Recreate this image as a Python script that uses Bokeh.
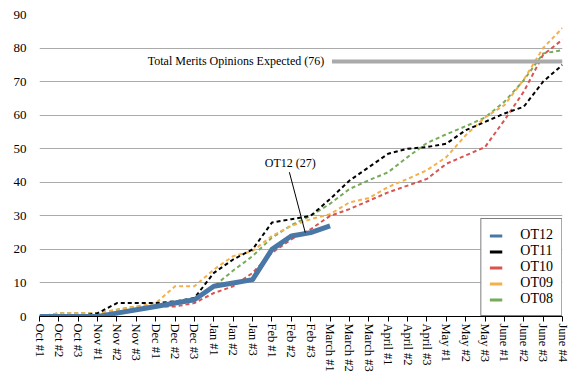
import math
from bokeh.plotting import figure
from bokeh.models import Range1d, FixedTicker, Legend, LegendItem, Label
from bokeh.embed import file_html
from bokeh.resources import INLINE

categories = ["Oct #1", "Oct #2", "Oct #3", "Nov #1", "Nov #2", "Nov #3",
              "Dec #1", "Dec #2", "Dec #3", "Jan #1", "Jan #2", "Jan #3",
              "Feb #1", "Feb #2", "Feb #3", "March #1", "March #2", "March #3",
              "April #1", "April #2", "April #3", "May #1", "May #2", "May #3",
              "June #1", "June #2", "June #3", "June #4"]

ot12 = [0, 0, 0, 0, 1, 2, 3, 4, 5, 9, 10, 11, 20, 24, 25, 27]
ot11 = [0, 0, 0, 1, 4, 4, 4, 4.5, 5.5, 13, 17, 20, 28, 29, 30, 35, 40.5, 44.5,
        48.5, 50, 50.5, 51.5, 55.5, 58, 60.5, 62.5, 70, 75]
ot10 = [0, 0, 0, 0, 1, 2, 3, 3, 4, 7, 9, 13, 19, 23, 26, 30, 32, 34.5,
        37, 39, 41, 45.5, 48, 50.5, 58.5, 67, 78, 82.5]
ot09 = [0, 1, 1, 1, 2, 3, 4, 9, 9, 14, 18, 19.5, 24, 27, 29, 30.5, 34, 35.3,
        38.6, 41, 43.6, 47.5, 54, 59.3, 63, 70.6, 80, 86]
ot08 = [0, 1, 1, 1, 2, 3, 3, 4, 5, 9, 13.7, 18, 23.5, 27.2, 30, 33.6, 38, 40.6,
        43, 47.5, 51.7, 54.3, 56.7, 59.3, 64, 70.4, 78.4, 79.4]

series_names = ["OT12", "OT11", "OT10", "OT09", "OT08"]
series_colors = ["#4a78a6", "#000000", "#d9534f", "#f4b04c", "#77ab59"]
expected_total = 76
y_ticks = list(range(0, 91, 10))

FONT = "'Liberation Serif', serif"
LEGEND_FONT = '"Liberation Serif", "Times New Roman", serif'

p = figure(width=576, height=382, output_backend="svg", toolbar_location=None,
           x_range=Range1d(0, len(categories) - 1), y_range=Range1d(0, 90),
           min_border_left=39, min_border_right=14, min_border_top=14,
           min_border_bottom=66)
p.outline_line_color = None
p.background_fill_color = "white"
p.border_fill_color = "white"

xs = list(range(len(categories)))
all_series = [ot12, ot11, ot10, ot09, ot08]

# dashed historical series, drawn first
for vals, col in zip(all_series[:0:-1], series_colors[:0:-1]):
    p.line(xs[:len(vals)], vals, line_color=col, line_width=2, line_dash="4 3")
p.line(xs[:len(ot12)], ot12, line_color=series_colors[0], line_width=5,
       line_join="round")

# expected total line
start_idx = categories.index("March #1")
p.line([start_idx + 0.1, len(categories) - 1], [expected_total, expected_total],
       line_color="#aaaaaa", line_width=4)
p.add_layout(Label(x=start_idx - 0.3, y=expected_total,
                   text=f"Total Merits Opinions Expected ({expected_total})",
                   text_align="right", text_baseline="middle",
                   text_font=FONT, text_font_size="12px", text_color="black"))

# OT12 annotation
p.add_layout(Label(x=12.95, y=45.6, text=f"OT12 ({ot12[-1]})",
                   text_align="center", text_baseline="middle",
                   text_font=FONT, text_font_size="12px", text_color="black"))
p.segment(x0=[12.9], y0=[43], x1=[13.72], y1=[ot12[14]], line_color="black",
          line_width=1)

# legend swatches: solid single-point lines (draw nothing in the plot)
legend_renderers = [p.line([xs[0]], [vals[0]], line_color=c, line_width=3)
                    for vals, c in zip(all_series, series_colors)]

# axes
p.xgrid.visible = False
p.ygrid.grid_line_color = "#aaaaaa"
p.ygrid.grid_line_width = 1
p.ygrid.ticker = FixedTicker(ticks=y_ticks)

xa = p.xaxis[0]
xa.ticker = FixedTicker(ticks=xs)
xa.major_label_overrides = {i: c for i, c in enumerate(categories)}
xa.major_label_orientation = -math.pi / 2
xa.axis_line_color = "black"
xa.axis_line_width = 1
xa.major_tick_line_color = "black"
xa.major_tick_out = 5
xa.major_tick_in = 0
xa.minor_tick_line_color = None
xa.major_label_standoff = 2
xa.major_label_text_font = FONT
xa.major_label_text_font_size = "12.5px"
xa.major_label_text_color = "black"

ya = p.yaxis[0]
ya.ticker = FixedTicker(ticks=y_ticks)
ya.axis_line_color = None
ya.major_tick_line_color = None
ya.minor_tick_line_color = None
ya.major_tick_out = 0
ya.major_tick_in = 0
ya.major_label_standoff = 13
ya.major_label_text_font = FONT
ya.major_label_text_font_size = "13px"
ya.major_label_text_color = "black"

legend = Legend(items=[LegendItem(label=n, renderers=[r]) for n, r in
                       zip(series_names, legend_renderers)],
                location="bottom_right", margin=0, padding=8, spacing=0,
                label_height=15, glyph_height=15, glyph_width=13,
                label_standoff=18, border_line_color="black", border_line_width=1,
                background_fill_color="white", background_fill_alpha=1,
                label_text_font=LEGEND_FONT, label_text_font_style="normal",
                label_text_font_size="14px", label_text_color="black")
p.add_layout(legend)

open("out.html", "w").write(file_html(p, INLINE))
